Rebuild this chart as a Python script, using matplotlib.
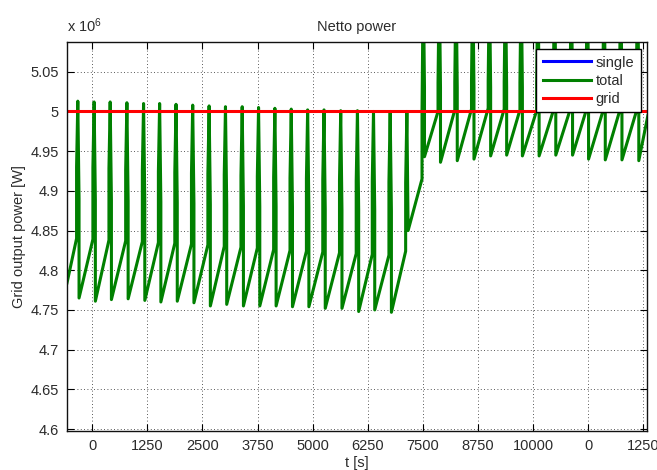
import numpy as np
import matplotlib
matplotlib.use("Agg")
import matplotlib.pyplot as plt
from matplotlib.ticker import FuncFormatter

# ---------------- data (power values in units of 1e6 W) ----------------
SCALE = 1e6
spike_t = [-325, 45, 409, 788, 1166, 1530, 1902, 2280, 2652, 3023, 3402,
           3773, 4143, 4514, 4886, 5257, 5636, 6015, 6379, 6757, 7136,
           7507, 7870, 8250, 8629, 9007, 9370, 9727, 10106, 10484, 10864,
           11227, 11606, 11984, 12366]
rise_end = [4.840, 4.839, 4.838, 4.837, 4.836, 4.835, 4.834, 4.833, 4.832,
            4.830, 4.829, 4.828, 4.826, 4.825, 4.824, 4.823, 4.822, 4.821,
            4.820, 4.819, 4.824,
            4.915, 5.000, 5.002, 5.003, 5.004, 5.003, 5.002, 5.001, 5.001,
            5.002, 5.001, 5.000, 5.000, 5.000]
left_branch = [4.930, 4.929, 4.928, 4.926, 4.925, 4.924, 4.923, 4.922, 4.921,
               4.920, 4.919, 4.918, 4.917, 4.916, 4.915, 4.914, 4.913, 4.912,
               4.912, 4.911, 4.910,
               5.000, 5.036, 5.037, 5.038, 5.038, 5.037, 5.036, 5.036, 5.036,
               5.036, 5.035, 5.035, 5.035, 5.035]
spike_top = [5.013, 5.012, 5.012, 5.011, 5.010, 5.010, 5.009, 5.008, 5.007,
             5.006, 5.006, 5.005, 5.004, 5.003, 5.002, 5.002, 5.001, 5.001,
             5.000, 5.000, 5.000,
             5.170, 5.170, 5.170, 5.170, 5.170, 5.170, 5.170, 5.170, 5.170,
             5.170, 5.170, 5.170, 5.170, 5.170]
right_branch = [4.890, 4.889, 4.888, 4.887, 4.886, 4.886, 4.885, 4.884, 4.883,
                4.882, 4.881, 4.880, 4.880, 4.879, 4.878, 4.877, 4.876, 4.876,
                4.875, 4.875, 4.850,
                5.030, 5.030, 5.030, 5.030, 5.030, 5.030, 5.030, 5.030, 5.030,
                5.030, 5.030, 5.030, 5.030, 5.030]
trough = [4.765, 4.761, 4.763, 4.764, 4.762, 4.760, 4.761, 4.759, 4.755,
          4.757, 4.755, 4.755, 4.755, 4.754, 4.754, 4.752, 4.752, 4.748,
          4.750, 4.747, 4.850,
          4.943, 4.936, 4.938, 4.940, 4.944, 4.945, 4.944, 4.944, 4.945,
          4.945, 4.940, 4.939, 4.939, 4.938]
start_t, start_p = -570, 4.784
end_t, end_p = 12600, 4.995
grid_power = 5.0
single_t, single_p = [], []

x_ticks = [0, 1250, 2500, 3750, 5000, 6250, 7500, 8750, 10000, 11250, 12500]
x_ticklabels = ['0', '1250', '2500', '3750', '5000', '6250', '7500', '8750',
                '10000', '0', '1250']
y_ticks = [4.6, 4.65, 4.7, 4.75, 4.8, 4.85, 4.9, 4.95, 5.0, 5.05]

# ---------------- build total-power trace ----------------
d = 28
tt = [start_t]
pp = [start_p]
for k, tk in enumerate(spike_t):
    tt += [tk - d, tk - d, tk, tk + d, tk + d]
    pp += [rise_end[k], left_branch[k], spike_top[k], right_branch[k], trough[k]]
tt.append(end_t)
pp.append(end_p)
tt = np.array(tt, dtype=float)
pp = np.array(pp) * SCALE

# ---------------- figure ----------------
plt.rcParams['font.family'] = ['Liberation Sans', 'DejaVu Sans']
plt.rcParams['font.size'] = 10.5
txt_color = '#2b2b2b'

fig = plt.figure(figsize=(6.57, 4.70), dpi=100)
ax = fig.add_axes([67 / 657, 1 - 431 / 470, 580 / 657, 389 / 470])

ax.plot(single_t, single_p, color='#0000ff', lw=2.2, label='single')
ax.plot(tt, pp, color='#008000', lw=2.2, label='total')
ax.axhline(grid_power * SCALE, color='#ff0000', lw=2.2, label='grid')

ax.set_xlim(-570, 12580)
ax.set_ylim(4.5975 * SCALE, 5.0875 * SCALE)

ax.set_xticks(x_ticks)
ax.set_xticklabels(x_ticklabels)
ax.set_yticks([v * SCALE for v in y_ticks])
ax.yaxis.set_major_formatter(FuncFormatter(lambda v, pos: '%g' % round(v / SCALE, 3)))

ax.grid(True, color='#222222', lw=0.6, linestyle=(0, (1, 3)))
ax.tick_params(direction='in', top=True, right=True, length=5, width=0.8,
               colors='k', labelcolor=txt_color, labelsize=10.5, pad=6)
for s in ax.spines.values():
    s.set_linewidth(1.0)
    s.set_color('#111111')

ax.set_title('Netto power', fontsize=10.5, color=txt_color, pad=8)
ax.set_xlabel('t [s]', color=txt_color, labelpad=2)
ax.set_ylabel('Grid output power [W]', color=txt_color)
ax.yaxis.set_label_coords(-0.071, 0.5)

ax.text(0.0, 1.018, r'x $\mathregular{10^{6}}$', transform=ax.transAxes,
        ha='left', va='bottom', color=txt_color, fontsize=10.5)

leg = ax.legend(loc='upper right', bbox_to_anchor=(0.9897, 0.982),
                borderaxespad=0, fancybox=False, framealpha=1, edgecolor='k',
                handlelength=3.3, handletextpad=0.35, borderpad=0.45,
                labelspacing=0.28)
leg.get_frame().set_linewidth(1.0)
for t in leg.get_texts():
    t.set_color(txt_color)

fig.savefig('out.png', dpi=100)
